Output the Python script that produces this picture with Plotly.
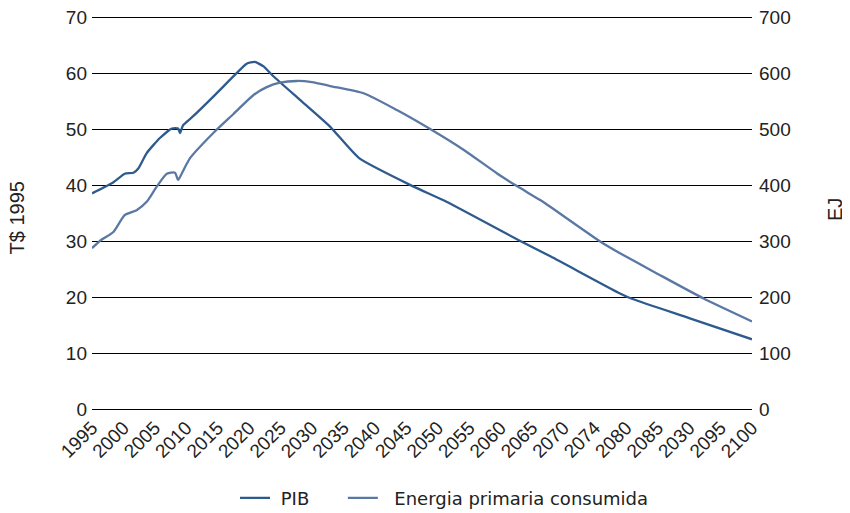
import plotly.graph_objects as go

# Tick labels (as printed in the original, including its typos)
tick_years = [1995, 2000, 2005, 2010, 2015, 2020, 2025, 2030, 2035, 2040, 2045,
              2050, 2055, 2060, 2065, 2070, 2075, 2080, 2085, 2090, 2095, 2100]
tick_labels = ["1995", "2000", "2005", "2010", "2015", "2020", "2025", "2030", "2035",
               "2040", "2045", "2050", "2055", "2060", "2065", "2070", "2074", "2080",
               "2085", "2030", "2095", "2100"]
left_ticks = [0, 10, 20, 30, 40, 50, 60, 70]
right_ticks = [0, 100, 200, 300, 400, 500, 600, 700]

# PIB (T$ 1995), left axis
pib_years = [1995, 1998.3, 2000.2, 2001.6, 2002.4, 2003.7, 2005.8, 2007.7, 2008.7, 2009.0,
             2009.5, 2011.1, 2014.3, 2018.0, 2019.6, 2020.9, 2022.3, 2023.9, 2028.0, 2032.9,
             2037.5, 2046.0, 2051.4, 2063.6, 2068.0, 2079.0, 2081.0, 2090.0, 2100.0]
pib_values = [38.6, 40.5, 42.1, 42.3, 43.1, 45.8, 48.5, 50.2, 50.2, 49.4,
              50.8, 52.4, 55.9, 60.1, 61.8, 62.1, 61.3, 59.5, 55.4, 50.5,
              44.9, 39.9, 37.1, 29.8, 27.3, 20.7, 19.7, 16.3, 12.5]

# Energia primaria consumida (EJ), right axis
ene_years = [1995, 1996.5, 1998.4, 2000.2, 2002.1, 2003.7, 2005.3, 2006.9, 2008.2, 2008.7,
             2009.3, 2010.6, 2014.3, 2017.5, 2020.7, 2022.8, 2024.9, 2027.6, 2030.0, 2032.9,
             2038.2, 2043.5, 2048.8, 2054.1, 2059.4, 2062.6, 2066.3, 2067.9, 2076.1, 2078.5,
             2085.0, 2092.3, 2100.0]
ene_values = [288, 303, 317, 347, 356, 371, 398, 421, 423, 410,
              422, 449, 494, 528, 562, 576, 584, 587, 585, 578,
              565, 535, 501, 464, 422, 399, 374, 362, 298, 282,
              242, 198, 157]

FONT = "Liberation Sans, Arial, sans-serif"
TXT = "#222222"
NB = "\u00a0"

fig = go.Figure()
fig.add_trace(go.Scatter(x=pib_years, y=pib_values, mode="lines",
                         name=NB + "PIB" + NB * 5,
                         line=dict(color="#2E5A8E", width=2.3, shape="spline", smoothing=0.5),
                         yaxis="y"))
fig.add_trace(go.Scatter(x=ene_years, y=ene_values, mode="lines",
                         name=NB * 2 + "Energia primaria consumida",
                         line=dict(color="#5A78A3", width=2.3, shape="spline", smoothing=0.6),
                         yaxis="y2"))

tick_font = dict(family=FONT, size=19, color=TXT)

fig.update_layout(
    width=842, height=505,
    margin=dict(l=84, r=98, t=7.2, b=101.2, autoexpand=False),
    paper_bgcolor="white", plot_bgcolor="white",
    showlegend=True,
    legend=dict(orientation="h", x=0.2167, xanchor="left", y=-0.2173, yanchor="middle",
                font=dict(family="DejaVu Sans, sans-serif", size=18, color=TXT),
                itemwidth=30, tracegroupgap=0, bgcolor="rgba(0,0,0,0)"),
    xaxis=dict(range=[1995, 2100], tickmode="array", tickvals=tick_years,
               ticktext=tick_labels, tickangle=-45, tickfont=tick_font,
               showgrid=False, zeroline=False, showline=False, ticks="",
               automargin=False, ticklabeloverflow="allow"),
    yaxis=dict(range=[-0.5, 70.5], tickmode="array",
               tickvals=left_ticks, tickfont=tick_font, showgrid=True,
               gridcolor="#000000", gridwidth=1.3, zeroline=False, showline=False,
               ticks="", ticklabelstandoff=4, automargin=False, ticklabeloverflow="allow"),
    yaxis2=dict(range=[-5, 705], tickmode="array",
                tickvals=right_ticks, overlaying="y", side="right",
                tickfont=tick_font, showgrid=False, zeroline=False, showline=False,
                ticks="", ticklabelstandoff=6, automargin=False, ticklabeloverflow="allow"),
    annotations=[
        dict(text="T$ 1995", xref="paper", yref="paper", x=-0.1129, y=0.4887,
             xanchor="center", yanchor="middle", textangle=-90, showarrow=False,
             font=dict(family=FONT, size=20, color=TXT)),
        dict(text="EJ", xref="paper", yref="paper", x=1.126, y=0.509,
             xanchor="center", yanchor="middle", textangle=-90, showarrow=False,
             font=dict(family=FONT, size=20, color=TXT)),
    ],
)

fig.write_html("out.html")
